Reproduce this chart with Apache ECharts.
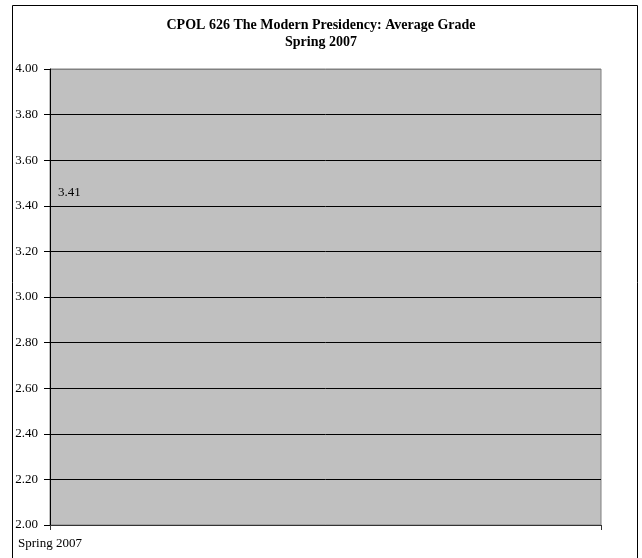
<!DOCTYPE html>
<html lang="en">
<head>
    <meta charset="UTF-8">
    <title>CPOL 626 Average Grade</title>
    <script src="https://cdn.jsdelivr.net/npm/echarts@6/dist/echarts.min.js"></script>
    <style>
        html, body {
            margin: 0;
            padding: 0;
            background: #fff;
        }
        #chart {
            width: 642px;
            height: 558px;
        }
    </style>
</head>
<body>
    <div id="chart"></div>
    <script>
        // 数据
        const terms = ['Spring 2007'];
        const avgGrade = [3.41];
        const yMin = 2.0;
        const yMax = 4.0;
        const yStep = 0.2;

        const serif = '"Liberation Serif", "Times New Roman", serif';

        // the point sits on the first tick; a blank slot closes the axis on the right
        const xCats = terms.concat(['']);

        // top gridline is drawn grey like the plot border, the rest black
        const nLines = Math.round((yMax - yMin) / yStep) + 1;
        const gridColors = [];
        for (let i = 0; i < nLines; i++) {
            gridColors.push(i === nLines - 1 ? '#808080' : '#000');
        }

        const chart = echarts.init(document.getElementById('chart'));

        const option = {
            animation: false,
            backgroundColor: '#fff',
            title: {
                text: 'CPOL 626 The Modern Presidency: Average Grade\nSpring 2007',
                left: 'center',
                top: 12,
                textStyle: {
                    fontFamily: serif,
                    fontSize: 14,
                    fontWeight: 'bold',
                    color: '#000',
                    lineHeight: 17
                }
            },
            graphic: [{
                type: 'rect',
                shape: { x: 12.5, y: 5.5, width: 625, height: 600 },
                style: { fill: 'none', stroke: '#000', lineWidth: 1 },
                silent: true
            }],
            grid: {
                left: 50,
                right: 41,
                top: 69,
                bottom: 33,
                show: true,
                backgroundColor: '#c0c0c0',
                borderColor: '#808080',
                borderWidth: 1
            },
            xAxis: {
                type: 'category',
                data: xCats,
                boundaryGap: false,
                axisLine: { lineStyle: { color: '#333', width: 1 } },
                axisTick: { length: 5, lineStyle: { color: '#333' } },
                axisLabel: {
                    margin: 12,
                    fontFamily: serif,
                    fontSize: 13,
                    color: '#000'
                },
                splitLine: { show: false }
            },
            yAxis: {
                type: 'value',
                min: yMin,
                max: yMax,
                interval: yStep,
                axisLine: { show: true, lineStyle: { color: '#000' } },
                axisTick: { show: true, length: 6, lineStyle: { color: '#000' } },
                axisLabel: {
                    margin: 12,
                    fontFamily: serif,
                    fontSize: 13,
                    color: '#000',
                    formatter: v => v.toFixed(2)
                },
                splitLine: {
                    show: true,
                    lineStyle: { color: gridColors, width: 1 }
                }
            },
            series: [{
                type: 'line',
                data: avgGrade,
                symbol: 'circle',
                symbolSize: 0,
                lineStyle: { color: '#000080' },
                label: {
                    show: true,
                    position: 'right',
                    offset: [3, -11],
                    fontFamily: serif,
                    fontSize: 13,
                    color: '#000',
                    formatter: p => p.value.toFixed(2)
                }
            }]
        };

        chart.setOption(option);
    </script>
</body>
</html>
